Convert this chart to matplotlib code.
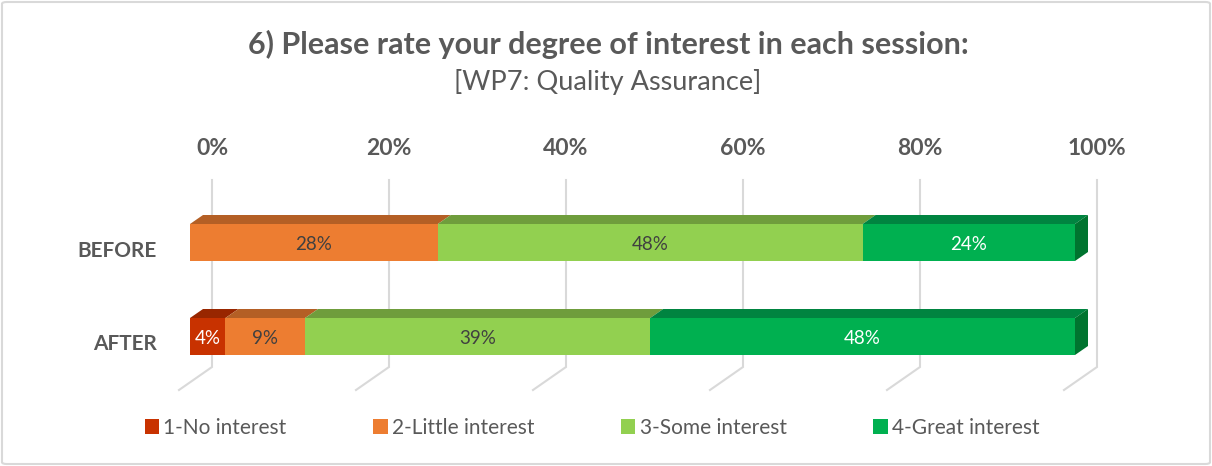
import matplotlib.pyplot as plt
from matplotlib.patches import Polygon, Patch, FancyBboxPatch
from matplotlib import font_manager

# data
categories = ['AFTER', 'BEFORE']          # bottom to top
levels = ['1-No interest', '2-Little interest', '3-Some interest', '4-Great interest']
after = [4, 9, 39, 48]
before = [0, 28, 48, 24]
series = {'AFTER': after, 'BEFORE': before}
ticks = [0, 20, 40, 60, 80, 100]
tick_labels = ['0%', '20%', '40%', '60%', '80%', '100%']

title = '6) Please rate your degree of interest in each session:'
subtitle = '[WP7: Quality Assurance]'

front = ['#C83200', '#ED7D31', '#92D050', '#00B050']
top = ['#982600', '#B45F25', '#6F9D3C', '#008440']
side = ['#862000', '#A0521C', '#5E8A30', '#00742F']
lab_col = ['white', '#404040', '#404040', 'white']
gray = '#595959'
grid_col = '#D9D9D9'

names = {f.name for f in font_manager.fontManager.ttflist}
font = 'Lato' if 'Lato' in names else 'DejaVu Sans'
plt.rcParams['font.family'] = [font, 'DejaVu Sans']

W, H = 1212, 466
fig = plt.figure(figsize=(W / 100, H / 100), dpi=100)
ax = fig.add_axes([0, 0, 1, 1])

# pixel geometry of the fake 3d frame
ppx = 8.85      # pixels per percent
ppy = 94.0      # pixels per category step
x0 = 190        # pixel x of 0% on front plane
y0 = 336.5      # pixel y of the AFTER bar centre
ax.set_xlim(-x0 / ppx, (W - x0) / ppx)
ax.set_ylim(-(H - y0) / ppy, y0 / ppy)
ax.axis('off')


def dx(p):
    return p / ppx


def dy(p):
    return p / ppy


def yp(py):
    return (y0 - py) / ppy


bar_h = dy(37)
bdx, bdy = dx(13), dy(9)      # bar depth
wdx = dx(22)                  # back wall offset

# back wall gridlines + floor
for t in ticks:
    xb = t + wdx
    ax.plot([xb, xb, xb - dx(33)], [yp(180), yp(367), yp(390)],
            color=grid_col, lw=1.5, zorder=1, solid_joinstyle='miter')

for t, lab in zip(ticks, tick_labels):
    ax.text(t + wdx, yp(148), lab, ha='center', va='center', fontsize=16.5,
            fontweight='bold', color=gray)

# bars
for i, cat in enumerate(categories):
    vals = series[cat]
    left = 0
    last = max(j for j, v in enumerate(vals) if v > 0)
    for j, v in enumerate(vals):
        if v == 0:
            continue
        ax.barh(i, v, left=left, height=bar_h, color=front[j], lw=0, zorder=3)
        yt = i + bar_h / 2
        ax.add_patch(Polygon([(left, yt), (left + v, yt), (left + v + bdx, yt + bdy),
                              (left + bdx, yt + bdy)], closed=True, fc=top[j],
                             lw=0, zorder=2))
        if j == last:
            xr = left + v
            ax.add_patch(Polygon([(xr, yt - bar_h), (xr, yt), (xr + bdx, yt + bdy),
                                  (xr + bdx, yt - bar_h + bdy)], closed=True,
                                 fc=side[j], lw=0, zorder=2))
        ax.text(left + v / 2, i - dy(2), f'{v}%', ha='center', va='center',
                fontsize=13.5, color=lab_col[j], zorder=5)
        left += v
    ax.text(dx(157 - x0), i - dy(8), cat, ha='right', va='center', fontsize=15,
            fontweight='bold', color=gray)

fig.text(608 / W, 1 - 44 / H, title, ha='center', va='center', fontsize=22,
         fontweight='bold', color=gray)
fig.text(608 / W, 1 - 82 / H, subtitle, ha='center', va='center', fontsize=19.5,
         color=gray)

handles = [Patch(fc=c, ec='none') for c in front]
fig.legend(handles, levels, loc='center', bbox_to_anchor=(592 / W, 1 - 428 / H),
           ncol=4, frameon=False, fontsize=15, handlelength=0.7, handleheight=0.7,
           handletextpad=0.2, columnspacing=4.15, labelcolor=gray)

fig.patches.append(FancyBboxPatch((2 / W, 2 / H), (W - 4) / W, (H - 4) / H,
                                  boxstyle='round,pad=0,rounding_size=0.004',
                                  transform=fig.transFigure, fill=False,
                                  ec=grid_col, lw=1.5))

fig.savefig('out.png', dpi=100)
